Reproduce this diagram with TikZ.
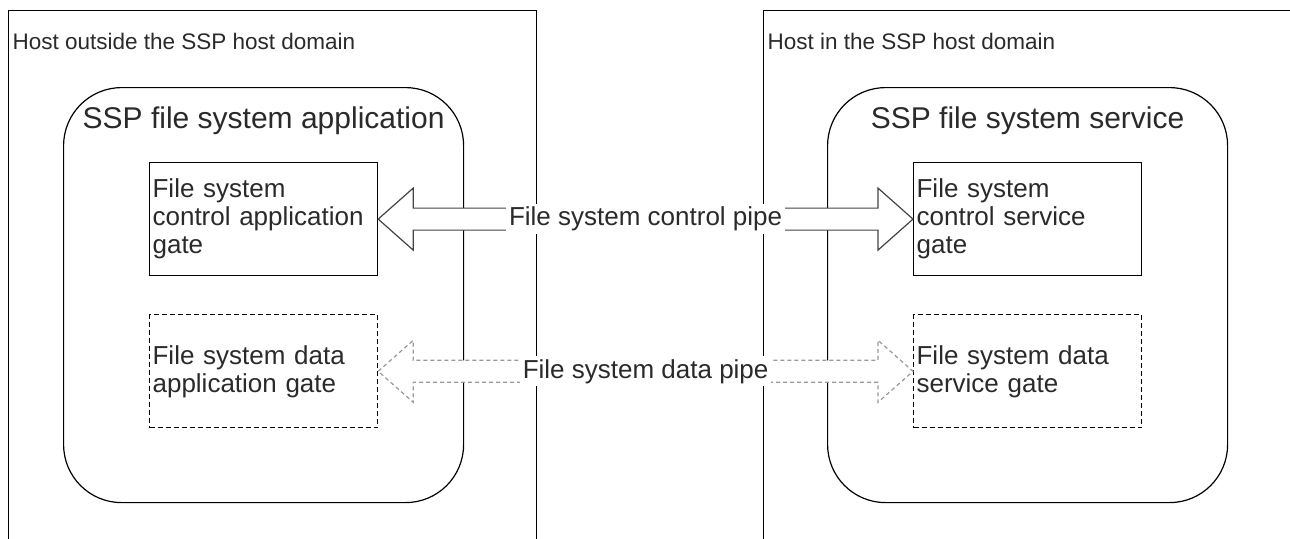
\documentclass[tikz,border=0pt]{standalone}
\usepackage{fontspec}
\setmainfont{Liberation Sans}
\usepackage{tikz}
\usetikzlibrary{positioning}
\usetikzlibrary{calc}

\definecolor{pipegray}{HTML}{444444}
\definecolor{datagray}{HTML}{999999}
\definecolor{textgray}{HTML}{2A2A2A}

\begin{document}
\begin{tikzpicture}[x=1pt,y=-1pt,line width=1.2pt,text=textgray,
		host box/.style={rectangle,draw,anchor=north west,inner sep=0pt},
		app box/.style={rectangle,draw,rounded corners=58pt,anchor=north west,
			minimum width=400pt,minimum height=415pt,inner sep=0pt},
		gate box/.style={rectangle,draw,anchor=north west,minimum width=228pt,
			minimum height=113pt,text width=222pt,inner xsep=3pt,align=left,
			font=\fontsize{26}{28}\selectfont},
		data gate/.style={gate box,dash pattern=on 5pt off 3pt},
		host label/.style={font=\fontsize{22.5}{26}\selectfont,inner sep=0pt,anchor=base west},
		app label/.style={font=\fontsize{30}{34}\selectfont,inner sep=0pt,anchor=base},
		pipe label/.style={fill=white,inner sep=3pt,font=\fontsize{26}{28}\selectfont},
		ctl pipe/.style={draw=pipegray,fill=white,line join=miter},
		data pipe/.style={draw=datagray,fill=white,dash pattern=on 4pt off 3pt}]
		
		\clip (0,0) rectangle (1290,538);
		
		% hosts
		\node[host box,minimum width=528pt,minimum height=560pt] (hostout) at (8,10) {};
		\node[host box,minimum width=540pt,minimum height=560pt] (hostin) at (763,10) {};
		\node[host label] (hostoutlbl) at ($(hostout.north west)+(4,39)$) {Host outside the SSP host domain};
		\node[host label] (hostinlbl) at ($(hostin.north west)+(4,39)$) {Host in the SSP host domain};
		
		% application and service
		\node[app box] (app) at (63,87) {};
		\node[app box] (svc) at (827,87) {};
		\node[app label] (applbl) at ($(app.north)+(0,41)$) {SSP file system application};
		\node[app label] (svclbl) at ($(svc.north)+(0,41)$) {SSP file system service};
		
		% gates
		\node[gate box] (cag) at (149,162) {File system\\control application\\gate};
		\node[data gate] (dag) [below=38pt of cag.south west,anchor=north west] {File system data\\application gate};
		\node[gate box] (csg) at (913,162) {File system\\control service\\gate};
		\node[data gate] (dsg) [below=38pt of csg.south west,anchor=north west] {File system data\\service gate};
		
		% pipes
		\draw[ctl pipe] (cag.east) -- ++(35,-31) -- ++(0,20) -- ($(csg.west)+(-35,-11)$) -- ++(0,-20)
			-- (csg.west) -- ++(-35,31) -- ++(0,-20) -- ($(cag.east)+(35,11)$) -- ++(0,20) -- cycle;
		\draw[data pipe] (dag.east) -- ++(35,-31) -- ++(0,20) -- ($(dsg.west)+(-35,-11)$) -- ++(0,-20)
			-- (dsg.west) -- ++(-35,31) -- ++(0,-20) -- ($(dag.east)+(35,11)$) -- ++(0,20) -- cycle;
		\node[pipe label] (ctllbl) at ($(cag.east)!0.5!(csg.west)$) {File system control pipe};
		\node[pipe label] (datalbl) at ($(dag.east)!0.5!(dsg.west)$) {File system data pipe};
\end{tikzpicture}
\end{document}
